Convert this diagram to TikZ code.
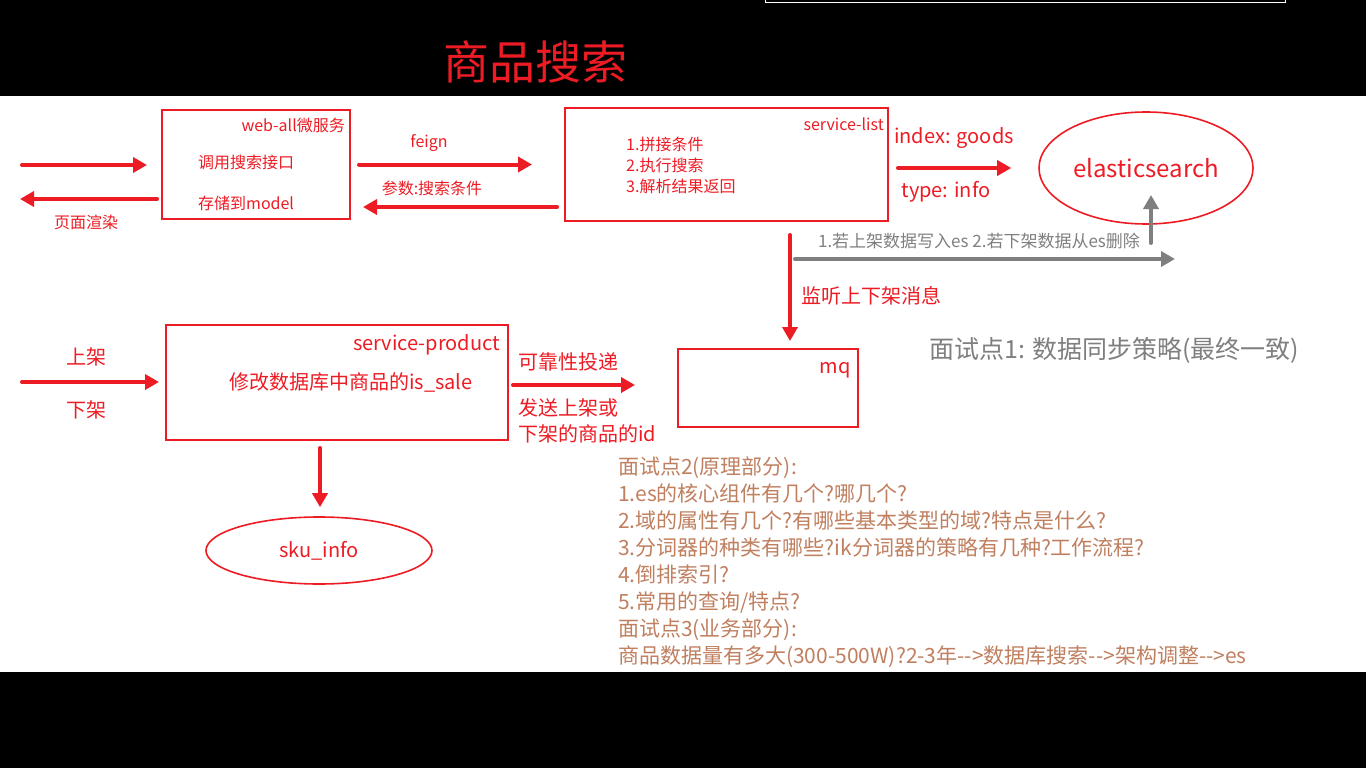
\documentclass[tikz,border=0pt]{standalone}
\usepackage{fontspec}
\setmainfont{Noto Sans CJK SC}
\usetikzlibrary{arrows.meta, shapes.geometric}
\definecolor{hired}{RGB}{237,28,36}
\definecolor{arrgray}{RGB}{127,127,127}
\definecolor{notebrown}{RGB}{192,128,96}
\newcommand{\pxs}[1]{\fontsize{#1}{#1}\selectfont}

\begin{document}
\begin{tikzpicture}[x=1pt, y=-1pt,
  box/.style={draw=hired, line width=2pt, inner sep=0pt},
  oval/.style={ellipse, draw=hired, line width=1.6pt, inner sep=0pt, text=hired},
  txt/.style={inner sep=0pt, text=hired},
  redarr/.style={draw=hired, line width=4pt, line cap=round, -{Triangle[length=14pt,width=15pt]}},
  grayarr/.style={draw=arrgray, line width=4pt, line cap=round, -{Triangle[length=14pt,width=15pt]}}]
\useasboundingbox (0,0) rectangle (1366,768);
% background
\fill[black] (0,0) rectangle (1366,768);
\fill[white] (0,96) rectangle (1366,672);
\draw[white, line width=1pt] (765.5,0) rectangle (1285,3);
\node[txt, font=\pxs{46}] (title) at (535,62) {商品搜索};
% web-all (top left)
\node[box, minimum width=188pt, minimum height=109pt] (web) at (256,164.5) {};
\node[txt, anchor=east, font=\pxs{16}] (webname) at (345,125) {web-all微服务};
\node[txt, anchor=west, font=\pxs{16}] (webcall) at (198,162) {调用搜索接口};
\node[txt, anchor=west, font=\pxs{16}] (webstore) at (198,203) {存储到model};
\node[txt, font=\pxs{16}] (render) at (86,222) {页面渲染};
\coordinate (reqin) at (22,165);
\coordinate (reqout) at (20,199);
\draw[redarr, shorten >=14pt] (reqin) -- (reqin -| web.west);
\draw[redarr, shorten <=4pt] (reqout -| web.west) -- (reqout);
% service-list
\node[box, minimum width=323pt, minimum height=113pt] (list) at (726.5,164.5) {};
\node[txt, anchor=east, font=\pxs{16}] (listname) at (884,124) {service-list};
\node[txt, anchor=west, align=left, font=\fontsize{16}{21}\selectfont] (steps) at (626,165)
  {1.拼接条件\\2.执行搜索\\3.解析结果返回};
\node[txt, font=\pxs{16}] (feign) at (429,143) {feign};
\node[txt, font=\pxs{16}] (params) at (432,188) {参数:搜索条件};
\draw[redarr, shorten <=8pt, shorten >=32pt] (web.east) -- (list.west);
\draw[redarr, shorten <=7pt, shorten >=12pt] (list.west |- 0,207) -- (web.east |- 0,207);
% elasticsearch
\node[oval, minimum width=214pt, minimum height=112pt, font=\pxs{24}] (es) at (1146,168) {elasticsearch};
\node[txt, font=\pxs{20}] (index) at (954,138) {index: goods};
\node[txt, font=\pxs{20}] (type) at (946,192) {type: info};
\draw[redarr, shorten <=9pt, shorten >=27pt] (list.east |- 0,168) -- (es.west |- 0,168);
% sync to es
\coordinate (syncstart) at (795,259);
\coordinate (syncend) at (1175,259);
\coordinate (upfoot) at (1151,243);
\draw[grayarr] (syncstart) -- (syncend);
\draw[grayarr, shorten >=27pt] (upfoot) -- (upfoot |- es.center);
\node[txt, text=arrgray, font=\pxs{17}] (synctext) at (979,241) {1.若上架数据写入es 2.若下架数据从es删除};
% mq
\node[box, minimum width=180pt, minimum height=78pt] (mq) at (768,388) {};
\node[txt, anchor=east, font=\pxs{20}] (mqname) at (851,370) {mq};
\draw[redarr, shorten <=13pt, shorten >=7pt] (list.south -| 790,0) -- (mq.north -| 790,0);
\node[txt, anchor=west, font=\pxs{20}] (listen) at (801,296) {监听上下架消息};
\node[txt, anchor=west, text=arrgray, font=\pxs{25}] (point1) at (929,350) {面试点1: 数据同步策略(最终一致)};
% service-product
\node[box, minimum width=342pt, minimum height=115pt] (prod) at (337,382.5) {};
\node[txt, anchor=east, font=\pxs{20}] (prodname) at (500,345) {service-product};
\node[txt, font=\pxs{20}] (prodtask) at (351,382) {修改数据库中商品的is\_sale};
\node[txt, font=\pxs{20}] (onshelf) at (86,357) {上架};
\node[txt, font=\pxs{20}] (offshelf) at (86,410) {下架};
\coordinate (shelfin) at (22,382);
\draw[redarr, shorten >=6pt] (shelfin) -- (shelfin -| prod.west);
\draw[redarr, shorten <=4pt, shorten >=42pt] (prod.east |- 0,385) -- (mq.west |- 0,385);
\node[txt, anchor=west, font=\pxs{20}] (reliable) at (518,362) {可靠性投递};
\node[txt, anchor=west, font=\pxs{20}] (send1) at (518,408) {发送上架或};
\node[txt, anchor=west, font=\pxs{20}] (send2) at (518,434) {下架的商品的id};
% sku_info
\node[oval, minimum width=226pt, minimum height=67pt, font=\pxs{20}] (sku) at (319,550.5) {sku\_info};
\draw[redarr, shorten <=7pt, shorten >=9pt] (prod.south -| 320,0) -- (sku.north -| 320,0);
% interview notes
\node[txt, text=notebrown, anchor=west, align=left, font=\fontsize{21}{27}\selectfont] (notes) at (618,562.5)
  {面试点2(原理部分):\\
   1.es的核心组件有几个?哪几个?\\
   2.域的属性有几个?有哪些基本类型的域?特点是什么?\\
   3.分词器的种类有哪些?ik分词器的策略有几种?工作流程?\\
   4.倒排索引?\\
   5.常用的查询/特点?\\
   面试点3(业务部分):\\
   商品数据量有多大(300-500W)?2-3年-\kern0pt->数据库搜索-\kern0pt->架构调整-\kern0pt->es};
\end{tikzpicture}
\end{document}
